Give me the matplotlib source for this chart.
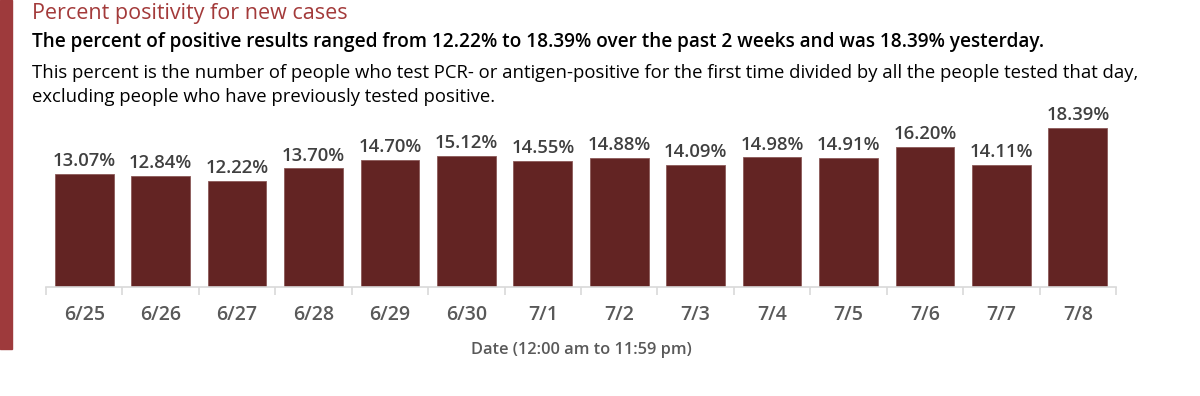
import matplotlib
import matplotlib.pyplot as plt
from matplotlib.patches import Rectangle

matplotlib.use('Agg')

dates = ['6/25', '6/26', '6/27', '6/28', '6/29', '6/30', '7/1',
         '7/2', '7/3', '7/4', '7/5', '7/6', '7/7', '7/8']
positivity = [13.07, 12.84, 12.22, 13.70, 14.70, 15.12, 14.55,
              14.88, 14.09, 14.98, 14.91, 16.20, 14.11, 18.39]

title = 'Percent positivity for new cases'
subtitle = ('The percent of positive results ranged from 12.22% to 18.39% '
            'over the past 2 weeks and was 18.39% yesterday.')
note = ('This percent is the number of people who test PCR- or antigen-positive '
        'for the first time divided by all the people tested that day,\n'
        'excluding people who have previously tested positive.')
xlabel = 'Date (12:00 am to 11:59 pm)'

BAR = '#632423'
GRID = '#d9d9d9'
FONT = ['Open Sans', 'DejaVu Sans']


def main():
    fig = plt.figure(figsize=(12, 3.96), dpi=100)

    # red stripe on the left edge
    fig.patches.append(Rectangle((0, 1 - 349 / 396), 12 / 1200, 349 / 396,
                                 transform=fig.transFigure, color='#9e3a3c'))

    fig.text(32 / 1200, 1 - 13 / 396, title, color='#a33a3a', fontsize=15.5,
             family=FONT, va='center', ha='left')
    fig.text(32 / 1200, 1 - 42 / 396, subtitle, color='black', fontsize=13.7,
             family=FONT, fontweight='semibold', va='center', ha='left')
    fig.text(32 / 1200, 1 - 85 / 396, note, color='black', fontsize=13.3,
             family=FONT, va='center', ha='left', linespacing=1.45)

    ax = fig.add_axes([46 / 1200, 109 / 396, 1070 / 1200, 173 / 396])
    x = range(len(dates))
    bars = ax.bar(x, positivity, width=0.77, color=BAR, edgecolor='#8c5a59',
                  linewidth=0.6)
    for b, v in zip(bars, positivity):
        ax.text(b.get_x() + b.get_width() / 2, v + 0.45, f'{v:.2f}%',
                ha='center', va='bottom', fontsize=13.3, fontweight='semibold',
                color='#404040', family=FONT)

    ax.set_xlim(-0.5, len(dates) - 0.5)
    ax.set_ylim(0, 20)
    ax.set_yticks([])
    ax.set_xticks(list(x))
    ax.set_xticklabels(dates, fontsize=14, fontweight='semibold',
                       color='#595959', family=FONT)
    ax.set_xticks([i - 0.5 for i in range(len(dates) + 1)], minor=True)
    ax.tick_params(axis='x', which='major', length=0, pad=13)
    ax.tick_params(axis='x', which='minor', length=6, color=GRID, width=1.2)
    for s in ['top', 'right', 'left']:
        ax.spines[s].set_visible(False)
    ax.spines['bottom'].set_color(GRID)
    ax.spines['bottom'].set_linewidth(1.2)
    ax.set_xlabel(xlabel, fontsize=11.8, fontweight='semibold',
                  color='#595959', family=FONT, labelpad=12)

    fig.savefig('out.png', dpi=100)


if __name__ == '__main__':
    main()
